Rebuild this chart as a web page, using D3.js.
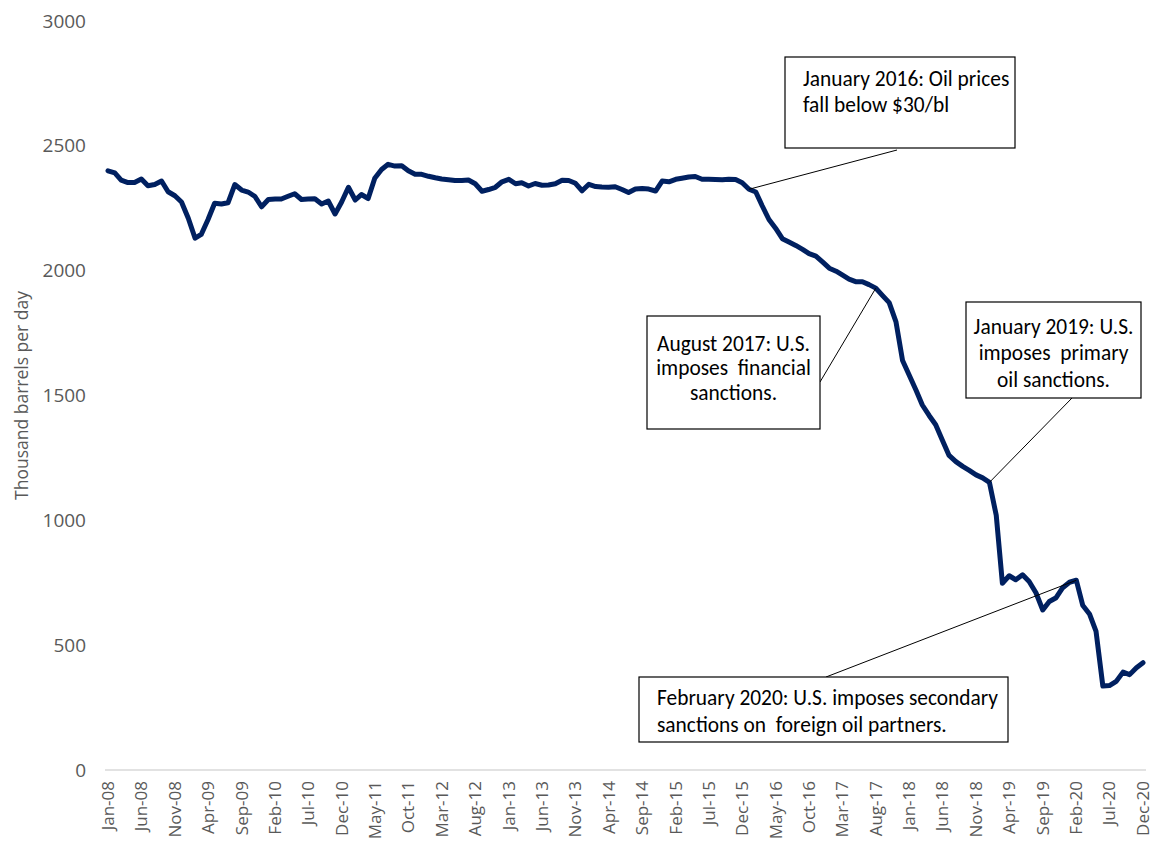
<!DOCTYPE html>
<html>
<head>
<meta charset="utf-8">
<script src="https://cdn.jsdelivr.net/npm/d3@7"></script>
<style>
  html, body { margin: 0; padding: 0; background: #fff; }
  svg { display: block; }
  text { white-space: pre; }
  .axis { font-family: "Open Sans", "Noto Sans", sans-serif; }
  .note { font-family: Carlito, Calibri, Lato, "Noto Sans", sans-serif; }
</style>
</head>
<body>
<svg id="chart" width="1156" height="846"></svg>
<script>
// ---------- data ----------
const startMonth = new Date(2008, 0, 1);
const values = [
  2400, 2392, 2363, 2353, 2353, 2367, 2340, 2345, 2359, 2316, 2300, 2275,
  2210, 2130, 2145, 2205, 2270, 2267, 2272, 2345, 2323, 2315, 2297, 2256,
  2285, 2287, 2287, 2298, 2308, 2285, 2287, 2288, 2267, 2279, 2227, 2275,
  2334, 2283, 2305, 2289, 2370, 2405, 2426, 2419, 2420, 2400, 2386, 2386,
  2378, 2372, 2367, 2364, 2361, 2361, 2363, 2348, 2318, 2325, 2334, 2356,
  2366, 2348, 2352, 2339, 2349, 2342, 2343, 2348, 2362, 2361, 2350, 2320,
  2346, 2337, 2335, 2334, 2336, 2325, 2313, 2327, 2329, 2327, 2319, 2359,
  2356, 2366, 2370, 2375, 2377, 2366, 2366, 2365, 2364, 2366, 2365, 2352,
  2326, 2315, 2260, 2205, 2170, 2128, 2115, 2101, 2085, 2068, 2058, 2035,
  2010, 1998, 1983, 1966, 1956, 1956, 1944, 1930, 1900, 1872, 1795, 1640,
  1580, 1520, 1462, 1420, 1383, 1320, 1260, 1235, 1216, 1200, 1182, 1170,
  1152, 1020, 748, 778, 762, 782, 755, 710, 641, 675, 690, 730,
  752, 760, 660, 625, 555, 336, 338, 355, 392, 382, 410, 430
];
const yTicks = [0, 500, 1000, 1500, 2000, 2500, 3000];
const tickEvery = 5; // x tick label every 5 months, from Jan-08
const yTitle = "Thousand barrels per day";

const annotations = [
  { month: "2016-01", lines: ["January 2016: Oil prices", "fall below $30/bl"], align: "start",
    box: [785, 57, 230, 91], anchor: [897, 150], textTop: 28.5, gap: 26.5 },
  { month: "2017-08", lines: ["August 2017: U.S.", "imposes  financial", "sanctions."], align: "middle",
    box: [647, 316, 173, 113], anchor: [820, 382], textTop: 34.5, gap: 24.5 },
  { month: "2019-01", lines: ["January 2019: U.S.", "imposes  primary", "oil sanctions."], align: "middle",
    box: [966, 302, 175, 96], anchor: [1072, 398], textTop: 31.5, gap: 26.5 },
  { month: "2020-02", lines: ["February 2020: U.S. imposes secondary", "sanctions on  foreign oil partners."], align: "start",
    box: [639, 677, 369, 65], anchor: [826, 677], textTop: 27.5, gap: 27 }
];

// ---------- derived ----------
const months = values.map((v, i) => d3.timeMonth.offset(startMonth, i));
const fmt = d3.timeFormat("%b-%y");
const keyFmt = d3.timeFormat("%Y-%m");

const svg = d3.select("#chart");
const x = d3.scaleTime().domain([months[0], months[months.length - 1]]).range([108, 1143]);
const y = d3.scaleLinear().domain([0, 3000]).range([770, 21]);

// y tick labels
svg.append("g").attr("class", "axis").selectAll("text").data(yTicks).join("text")
  .attr("x", 86).attr("y", d => y(d)).attr("dy", "0.35em")
  .attr("text-anchor", "end").attr("font-size", 19).attr("fill", "#595959")
  .text(d => d);

// y title
svg.append("text").attr("class", "axis")
  .attr("transform", `translate(22,${y(1500)}) rotate(-90)`)
  .attr("dy", "0.35em")
  .attr("text-anchor", "middle").attr("font-size", 17.5).attr("fill", "#595959")
  .text(yTitle);

// x axis line
svg.append("line").attr("x1", 105).attr("x2", 1146).attr("y1", y(0)).attr("y2", y(0))
  .attr("stroke", "#d9d9d9").attr("stroke-width", 1.5);

// x tick labels
const tickMonths = months.filter((m, i) => i % tickEvery === 0);
svg.append("g").attr("class", "axis").selectAll("text").data(tickMonths).join("text")
  .attr("transform", d => `translate(${x(d)},781) rotate(-90)`)
  .attr("dy", "0.35em").attr("text-anchor", "end")
  .attr("font-size", 17).attr("fill", "#595959")
  .text(d => fmt(d));

// line
const line = d3.line().x((d, i) => x(months[i])).y(d => y(d));
svg.append("path").datum(values).attr("d", line)
  .attr("fill", "none").attr("stroke", "#002060").attr("stroke-width", 5)
  .attr("stroke-linejoin", "round").attr("stroke-linecap", "round");

// annotations
annotations.forEach(a => {
  const idx = months.findIndex(m => keyFmt(m) === a.month);
  const px = x(months[idx]), py = y(values[idx]);
  svg.append("line").attr("x1", a.anchor[0]).attr("y1", a.anchor[1])
    .attr("x2", px).attr("y2", py).attr("stroke", "#000").attr("stroke-width", 1);
  const [bx, by, bw, bh] = a.box;
  svg.append("rect").attr("x", bx).attr("y", by).attr("width", bw).attr("height", bh)
    .attr("fill", "#fff").attr("stroke", "#000").attr("stroke-width", 1.2);
  const tx = a.align === "middle" ? bx + bw / 2 : bx + 18;
  a.lines.forEach((t, k) => {
    svg.append("text").attr("class", "note").attr("x", tx).attr("y", by + a.textTop + k * a.gap)
      .attr("text-anchor", a.align).attr("font-size", 21.4).attr("fill", "#000")
      .text(t);
  });
});
</script>
</body>
</html>
